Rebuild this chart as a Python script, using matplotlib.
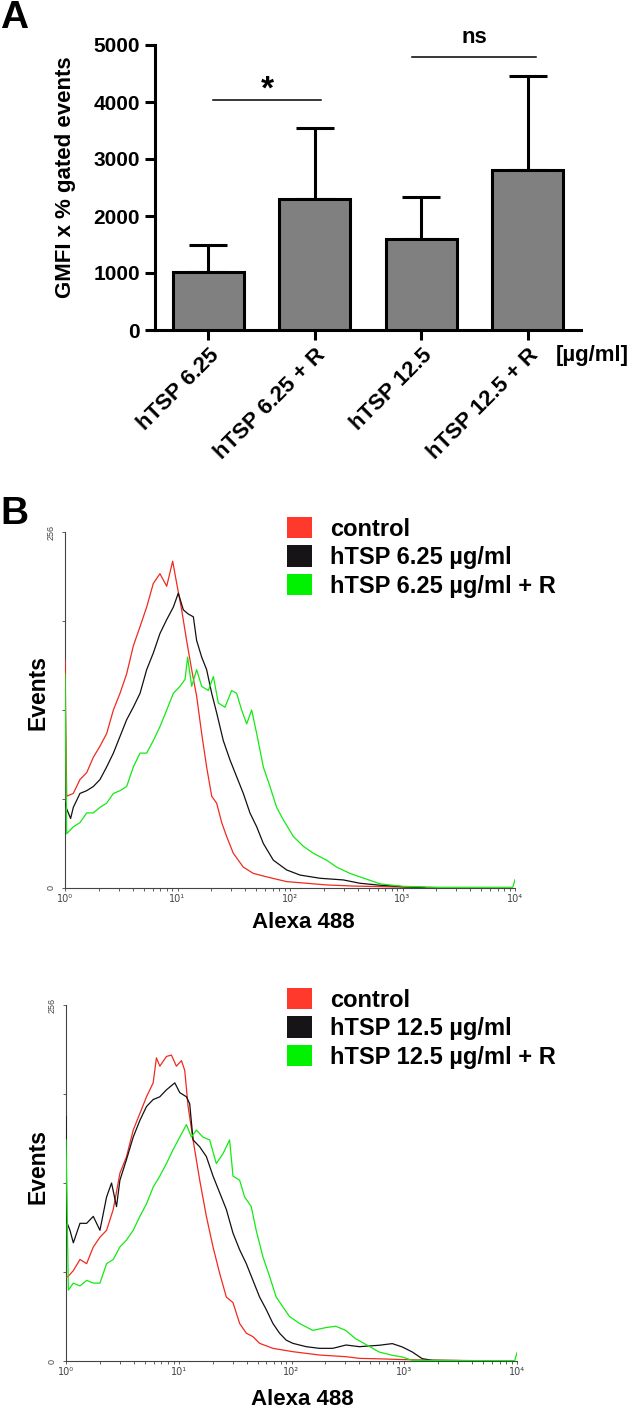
import numpy as np
import matplotlib
matplotlib.use('Agg')
import matplotlib.pyplot as plt
from matplotlib.patches import Patch

plt.rcParams['font.family'] = ['Liberation Sans', 'DejaVu Sans']

# ---------------- Panel A data ----------------
categories = ['hTSP 6.25', 'hTSP 6.25 + R', 'hTSP 12.5', 'hTSP 12.5 + R']
means = [1015, 2300, 1605, 2810]
upper = [1495, 3550, 2330, 4455]
yticks_A = [0, 1000, 2000, 3000, 4000, 5000]

# ---------------- Panel B data (log10 fluorescence, events) ----------------
legend_labels_top = ['control', 'hTSP 6.25 \u00b5g/ml', 'hTSP 6.25 \u00b5g/ml + R']
legend_labels_bot = ['control', 'hTSP 12.5 \u00b5g/ml', 'hTSP 12.5 \u00b5g/ml + R']
xtick_labels_B = ['10\u2070', '10\u00b9', '10\u00b2', '10\u00b3', '10\u2074']

red_log_top = [0.0, 0.015, 0.074, 0.133, 0.193, 0.252, 0.311, 0.370, 0.430, 0.489,
               0.548, 0.607, 0.667, 0.726, 0.785, 0.844, 0.904, 0.957, 0.993, 1.037,
               1.081, 1.126, 1.170, 1.215, 1.259, 1.304, 1.348, 1.393, 1.437, 1.496,
               1.585, 1.674, 1.793, 1.970, 2.148, 2.326, 2.563, 2.8, 3.0, 3.3]
red_top = [164, 66, 68, 78, 83, 94, 102, 111, 128, 140,
           154, 174, 188, 202, 219, 226, 217, 235, 219, 200,
           178, 157, 138, 111, 87, 66, 61, 47, 37, 25,
           15, 10.5, 8, 4.6, 3.4, 2.2, 1.4, 1, 0.6, 0.3]

black_log_top = [0.0, 0.009, 0.050, 0.074, 0.133, 0.193, 0.252, 0.311, 0.370, 0.430,
                 0.489, 0.548, 0.607, 0.667, 0.726, 0.785, 0.844, 0.904, 0.963, 1.007,
                 1.052, 1.096, 1.141, 1.170, 1.215, 1.259, 1.304, 1.348, 1.407, 1.467,
                 1.526, 1.585, 1.644, 1.704, 1.763, 1.852, 1.970, 2.089, 2.267, 2.474,
                 2.622, 2.8, 3.0, 3.2]
black_top = [62, 58, 50, 58, 68, 70, 73, 78, 87, 97,
             109, 121, 130, 140, 157, 169, 183, 193, 202, 212,
             200, 197, 195, 178, 166, 157, 140, 126, 106, 92,
             80, 68, 54, 44, 32, 20, 13, 9.3, 7, 5.8,
             3.4, 2, 1, 0.3]

green_log_top = [0.0, 0.015, 0.074, 0.133, 0.193, 0.252, 0.311, 0.370, 0.430, 0.489,
                 0.548, 0.607, 0.667, 0.726, 0.785, 0.844, 0.904, 0.963, 1.022, 1.067,
                 1.090, 1.126, 1.170, 1.215, 1.274, 1.319, 1.363, 1.422, 1.481, 1.526,
                 1.570, 1.615, 1.659, 1.704, 1.763, 1.822, 1.881, 1.941, 2.030, 2.119,
                 2.207, 2.326, 2.415, 2.533, 2.622, 2.8, 3.0, 3.3, 3.98, 4.0]
green_top = [154, 39, 44, 47, 54, 54, 58, 61, 68, 70,
             73, 87, 97, 97, 106, 116, 128, 140, 145, 150,
             166, 145, 157, 145, 142, 152, 133, 130, 142, 140,
             128, 118, 128, 111, 87, 73, 58, 49, 37, 30,
             25, 20, 15, 10.5, 8, 3, 1.2, 0.5, 0.5, 6]

red_log_bot = [0.0, 0.021, 0.065, 0.124, 0.183, 0.242, 0.301, 0.360, 0.419, 0.478,
               0.537, 0.596, 0.655, 0.714, 0.773, 0.802, 0.832, 0.891, 0.935, 0.979,
               1.024, 1.053, 1.083, 1.127, 1.186, 1.245, 1.304, 1.363, 1.422, 1.481,
               1.540, 1.599, 1.658, 1.717, 1.835, 2.012, 2.248, 2.484, 2.602, 2.8,
               3.0, 3.3, 3.6]
red_bot = [60, 61, 65, 73, 70, 82, 89, 94, 109, 135,
           147, 166, 178, 190, 200, 218, 212, 219, 220, 212,
           216, 209, 183, 159, 130, 104, 82, 63, 46, 42,
           27, 20, 17.5, 12.7, 9.1, 6.7, 4.3, 3.1, 1.9, 1.5,
           1, 0.5, 0.3]

black_log_bot = [0.0, 0.006, 0.035, 0.065, 0.124, 0.183, 0.242, 0.301, 0.360, 0.404,
                 0.448, 0.478, 0.537, 0.596, 0.655, 0.714, 0.773, 0.832, 0.891, 0.965,
                 1.009, 1.068, 1.097, 1.127, 1.186, 1.245, 1.304, 1.363, 1.422, 1.481,
                 1.540, 1.599, 1.658, 1.717, 1.776, 1.835, 1.894, 1.953, 2.012, 2.130,
                 2.248, 2.366, 2.484, 2.602, 2.776, 2.894, 2.982, 3.071, 3.159, 3.248,
                 3.5]
black_bot = [176, 100, 94, 85, 99, 99, 104, 94, 118, 128,
             111, 130, 145, 161, 173, 183, 188, 190, 195, 200,
             193, 190, 185, 159, 154, 147, 133, 121, 109, 92,
             80, 70, 58, 46, 37, 27, 20, 15, 12.7, 10.3,
             9.1, 9.1, 11.5, 10.3, 11.3, 12.5, 10.1, 6.5, 1.7, 0.5,
             0.3]

green_log_bot = [0.0, 0.021, 0.065, 0.124, 0.183, 0.242, 0.301, 0.360, 0.419, 0.478,
                 0.537, 0.596, 0.655, 0.714, 0.773, 0.832, 0.891, 0.950, 1.009, 1.068,
                 1.112, 1.156, 1.215, 1.274, 1.333, 1.392, 1.451, 1.481, 1.540, 1.584,
                 1.643, 1.687, 1.746, 1.805, 1.864, 1.923, 1.982, 2.071, 2.189, 2.304,
                 2.392, 2.481, 2.569, 2.658, 2.776, 2.894, 2.982, 3.071, 3.5, 3.98,
                 4.0]
green_bot = [159, 51, 56, 54, 58, 56, 56, 70, 73, 82,
             87, 94, 104, 113, 125, 133, 142, 152, 161, 170,
             161, 166, 161, 159, 142, 149, 159, 133, 130, 118,
             111, 94, 75, 61, 46, 39, 32, 27, 22, 24,
             25, 22, 16, 12, 6.5, 4.1, 2.9, 0.5, 0.3, 0.3,
             6]

COL_RED = '#f2291f'
COL_BLACK = '#111111'
COL_GREEN = '#12ea12'
SQ_COLORS = ['#ff3a2c', '#161416', '#00f200']

W, H = 633, 1407
fig = plt.figure(figsize=(W / 100, H / 100), dpi=100)


def fx(px):
    return px / W


def fy(py):
    return 1 - py / H


# ================= Panel A =================
axA = fig.add_axes([fx(155), fy(330), fx(581 - 155), (330 - 45) / H])
x = np.arange(len(categories))
err = [u - m for u, m in zip(upper, means)]
axA.errorbar(x, means, yerr=[[0] * len(err), err], fmt='none', ecolor='black',
             elinewidth=2.2, capsize=14, capthick=2.2, zorder=2)
axA.bar(x, means, width=0.665, color='#808080', edgecolor='black', linewidth=2.2, zorder=3)
axA.set_xlim(-0.5, 3.5)
axA.set_ylim(0, 5000)
for s in ['top', 'right']:
    axA.spines[s].set_visible(False)
for s in ['left', 'bottom']:
    axA.spines[s].set_linewidth(2.2)
axA.set_yticks(yticks_A)
axA.set_yticklabels([str(v) for v in yticks_A], fontsize=15, fontweight='bold')
axA.set_xticks(x)
axA.set_xticklabels(categories, rotation=45, ha='right', rotation_mode='anchor',
                    fontsize=16, fontweight='bold')
axA.tick_params(axis='both', direction='out', length=7.2, width=2.2, pad=3.6)
axA.set_ylabel('GMFI x % gated events', fontsize=16, fontweight='bold', va='center')
axA.yaxis.set_label_coords(-0.211, 0.535)

# significance annotations
axA.plot([0.045, 1.059], [4035, 4035], color='black', lw=1.1, clip_on=False)
axA.text(0.552, 4060, '*', ha='center', va='baseline', fontsize=24, fontweight='bold')
axA.plot([1.913, 3.077], [4795, 4795], color='black', lw=1.1, clip_on=False)
axA.text(2.495, 5035, 'ns', ha='center', va='baseline', fontsize=16, fontweight='bold',
         clip_on=False)

fig.text(fx(556), fy(355), '[\u00b5g/ml]', ha='left', va='center', fontsize=16,
         fontweight='bold')
fig.text(0.0, 1.0, 'A', ha='left', va='top', fontsize=28, fontweight='bold')

# ================= Panel B =================


def hist_panel(rect, series, labels, legend_xy, label_xy_events, label_xy_alexa):
    ax = fig.add_axes(rect)
    for logs, vals, col in series:
        ax.plot(10 ** np.array(logs), vals, color=col, lw=0.9, zorder=3)
    ax.set_xscale('log')
    ax.set_xlim(1, 1e4)
    ax.set_ylim(0, 256)
    for s in ['top', 'right']:
        ax.spines[s].set_visible(False)
    for s in ['left', 'bottom']:
        ax.spines[s].set_linewidth(0.8)
        ax.spines[s].set_color('#444444')
    ax.set_yticks([0, 64, 128, 192, 256])
    ax.set_yticklabels(['0', '', '', '', '256'], fontsize=6.5, color='#444444')
    ax.tick_params(axis='y', direction='out', length=2.5, width=0.6,
                   colors='#444444', labelrotation=90, pad=4)
    for lab in ax.get_yticklabels():
        lab.set_va('center')
    ax.set_xticks([1, 10, 100, 1000, 10000])
    ax.set_xticklabels(xtick_labels_B, fontsize=7, color='#444444',
                       family='DejaVu Sans')
    ax.xaxis.set_minor_locator(matplotlib.ticker.LogLocator(base=10, subs=np.arange(2, 10)))
    ax.xaxis.set_minor_formatter(matplotlib.ticker.NullFormatter())
    ax.tick_params(axis='x', which='major', direction='out', length=2.5, width=0.6,
                   colors='#444444', pad=1.5)
    ax.tick_params(axis='x', which='minor', direction='out', length=2.0, width=0.6,
                   colors='#444444')
    ax.set_ylabel('Events', fontsize=16.5, fontweight='bold', va='center')
    ax.yaxis.set_label_coords(*label_xy_events)
    ax.set_xlabel('Alexa 488', fontsize=16, fontweight='bold', va='center')
    ax.xaxis.set_label_coords(*label_xy_alexa)
    handles = [Patch(facecolor=c, edgecolor='none') for c in SQ_COLORS]
    fs = 17 * 100 / 72
    ax.legend(handles, labels, loc='upper left', bbox_to_anchor=legend_xy,
              bbox_transform=fig.transFigure, frameon=False, borderpad=0,
              borderaxespad=0, handlelength=25 / fs, handleheight=24 / fs,
              handletextpad=18 / fs, labelspacing=0.2,
              prop=dict(weight='bold', size=17))
    return ax


hist_panel([fx(65), fy(888), fx(515 - 65), (888 - 532) / H],
           [(red_log_top, red_top, COL_RED),
            (black_log_top, black_top, COL_BLACK),
            (green_log_top, green_top, COL_GREEN)],
           legend_labels_top, (fx(287), fy(517)),
           (-0.06, 0.548), (0.529, -0.098))

hist_panel([fx(66), fy(1361), fx(517 - 66), (1361 - 1005) / H],
           [(red_log_bot, red_bot, COL_RED),
            (black_log_bot, black_bot, COL_BLACK),
            (green_log_bot, green_bot, COL_GREEN)],
           legend_labels_bot, (fx(287), fy(988)),
           (-0.062, 0.545), (0.525, -0.107))

fig.text(0.0, fy(496), 'B', ha='left', va='top', fontsize=28, fontweight='bold')

fig.savefig('out.png', dpi=100)
